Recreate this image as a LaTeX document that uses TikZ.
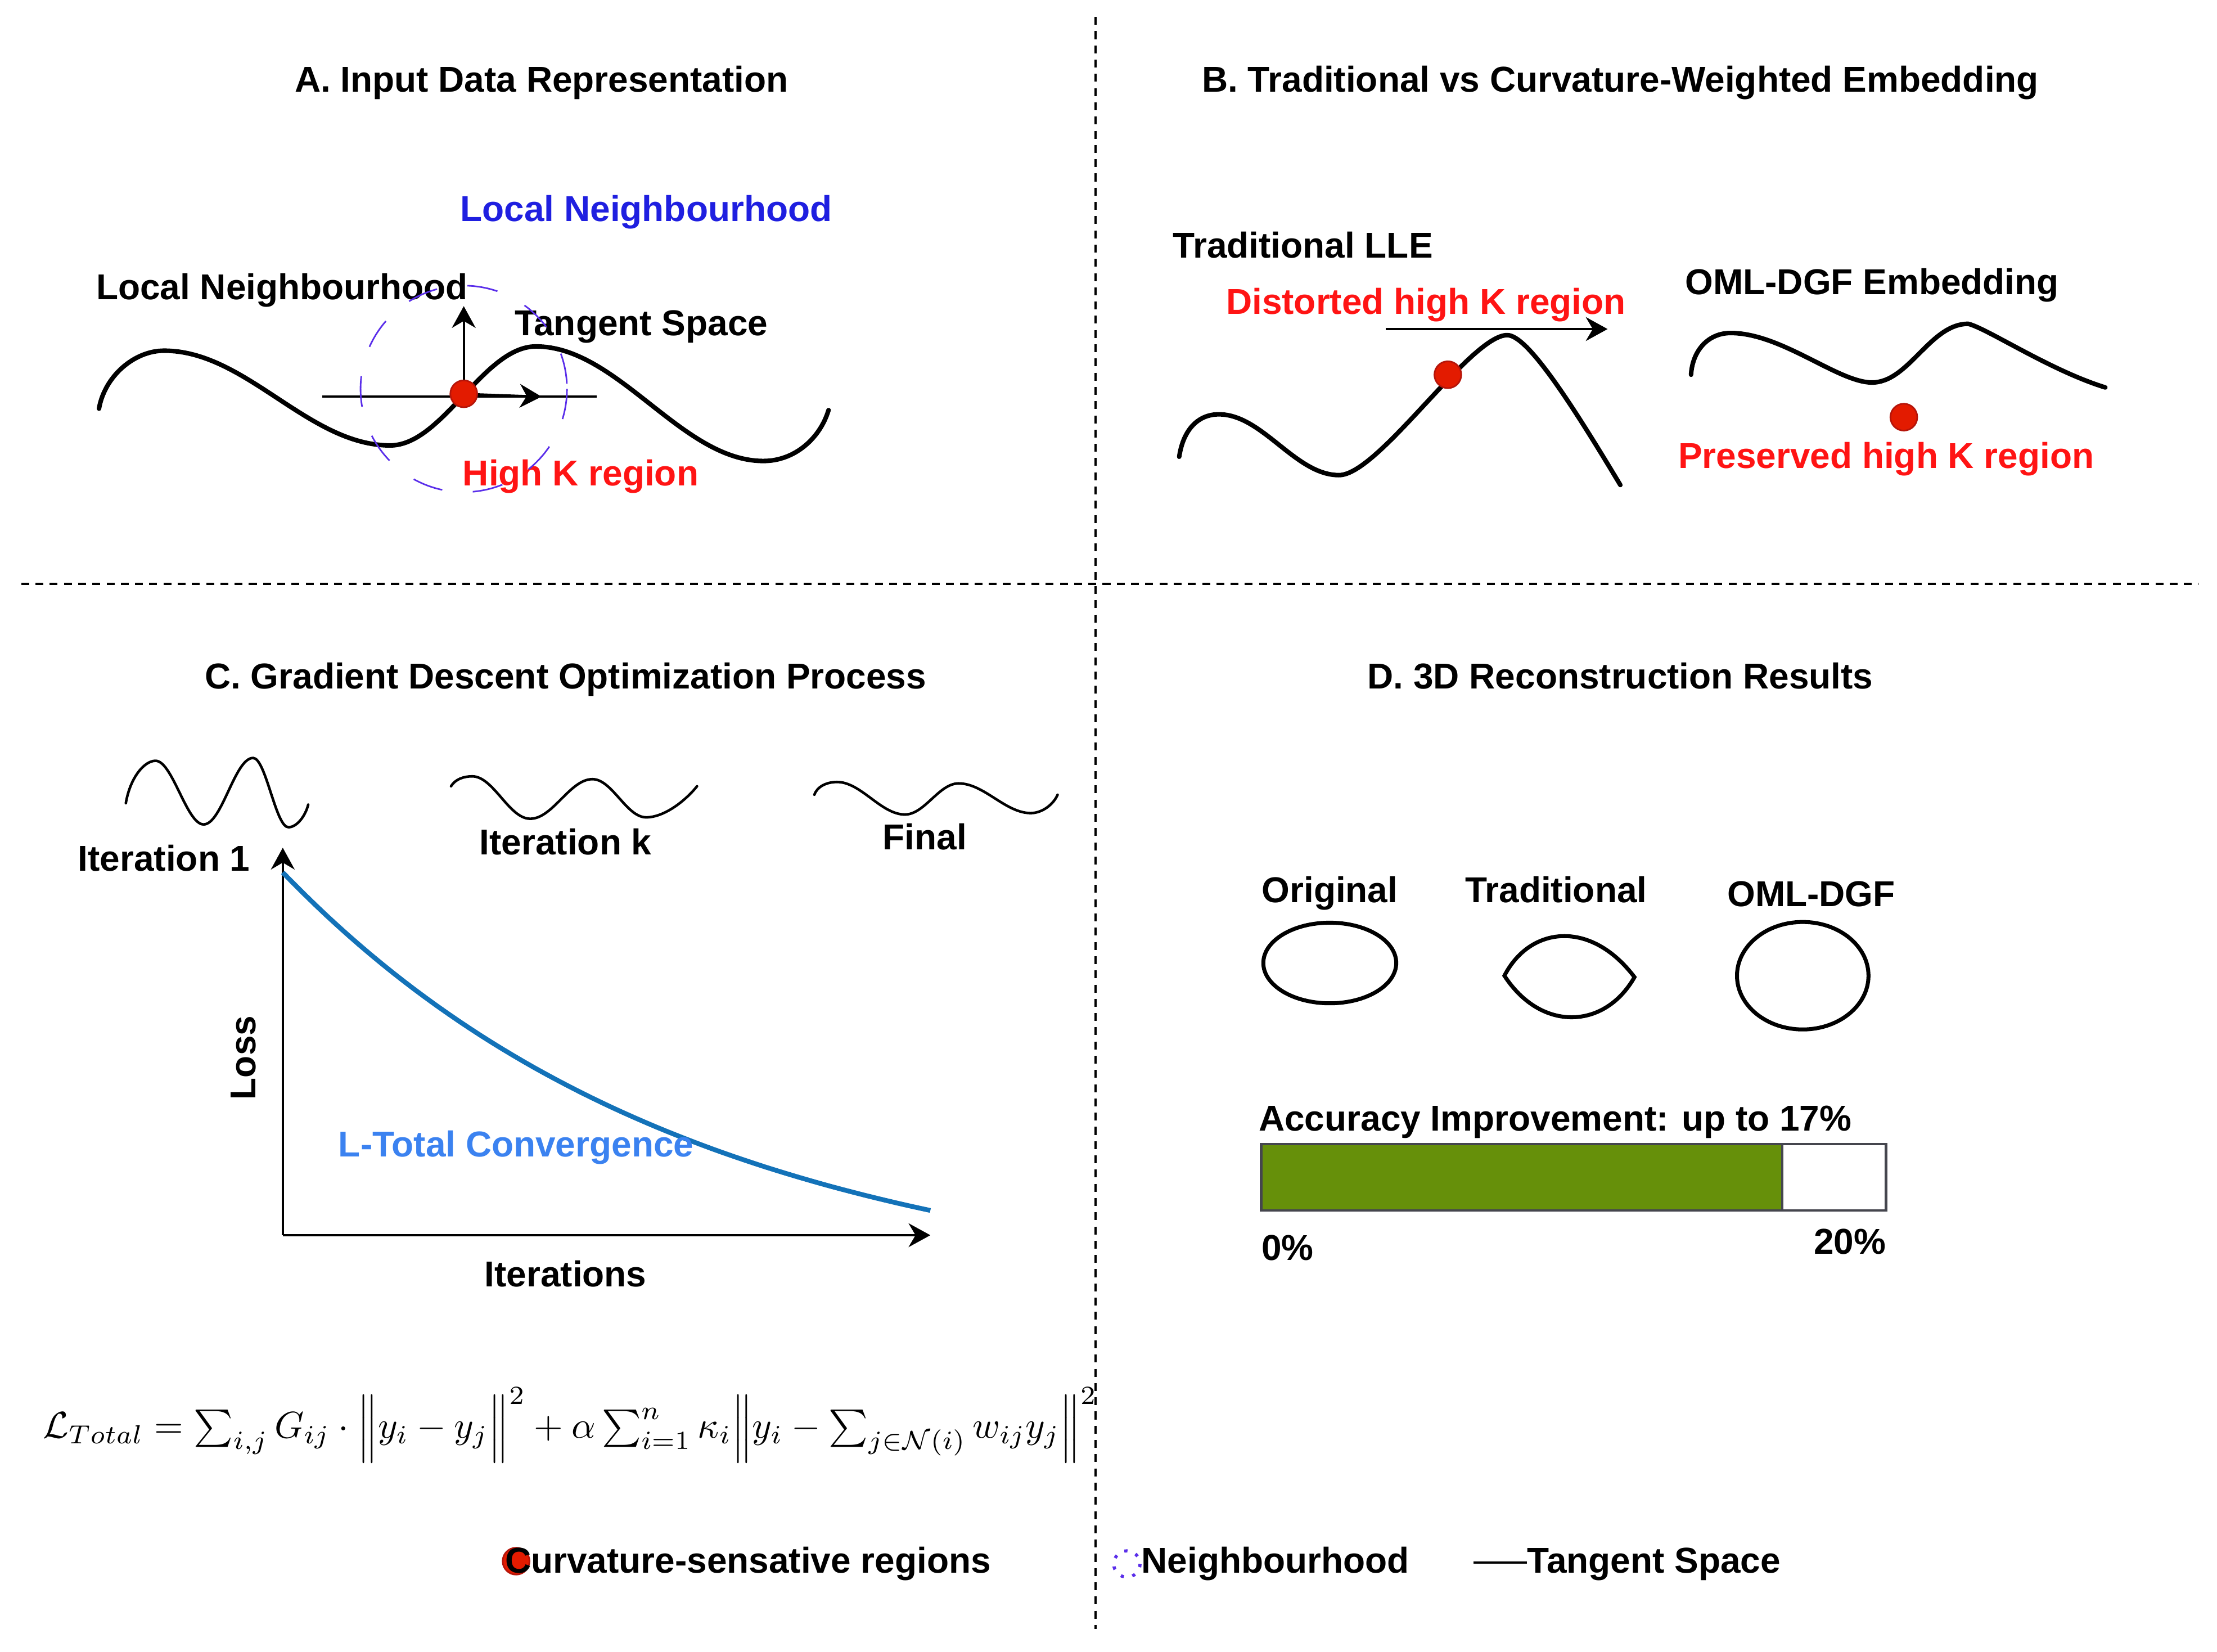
\documentclass[tikz,border=0pt]{standalone}
\usepackage{amsmath,amssymb}
\usepackage{fontspec}
\setmainfont{Liberation Sans}
\usepackage{graphicx}
\usepackage{xcolor}
\usepackage{tikz}
\usetikzlibrary{arrows.meta}
\definecolor{hiRed}{HTML}{FF1414}
\definecolor{dotRed}{HTML}{E31B00}
\definecolor{dotEdge}{HTML}{B5150A}
\definecolor{nbBlue}{HTML}{1F1FE0}
\definecolor{nbPurple}{HTML}{5A2EEA}
\definecolor{lossBlue}{HTML}{1372B8}
\definecolor{convBlue}{HTML}{3B82F0}
\definecolor{barGreen}{HTML}{66900A}
\definecolor{barEdge}{HTML}{45464E}
\tikzset{
  lbl/.style={font=\fontsize{18.2}{22}\selectfont\bfseries, inner sep=0pt, anchor=base},
  lblW/.style={lbl, anchor=base west},
  redLbl/.style={lbl, text=hiRed},
  blueLbl/.style={lbl, text=nbBlue},
  manifold/.style={draw=black, line width=2.3pt, line cap=round},
  thinWave/.style={draw=black, line width=1.3pt, line cap=round},
  kDot/.style={fill=dotRed, draw=dotEdge, line width=0.8pt},
  nbCircle/.style={draw=nbPurple, line width=0.8pt, dash pattern=on 15.5pt off 15.5pt},
  nbMark/.style={draw=nbPurple, line width=1.6pt, dash pattern=on 1.6pt off 4.4pt},
  arrowLine/.style={-{Stealth[length=11pt, width=12pt, inset=3.5pt]}, line width=1.1pt},
  tanLine/.style={draw=black, line width=1pt},
  panelSep/.style={draw=black, line width=1.1pt, dash pattern=on 4pt off 3.2pt},
  lossCurve/.style={draw=lossBlue, line width=2.4pt},
  shapeLine/.style={draw=black, line width=2pt},
  barFrame/.style={draw=barEdge, line width=1.3pt}
}
\begin{document}
\begin{tikzpicture}[x=0.02514cm, y=-0.02514cm]
  \useasboundingbox (0,0) rectangle (1568,1168);

  % panel separators
  \coordinate (sepTop) at (775,12);
  \coordinate (sepBot) at (775,1152);
  \coordinate (sepL) at (15,413);
  \coordinate (sepR) at (1555,413);
  \draw[panelSep] (sepTop) -- (sepBot);
  \draw[panelSep] (sepL) -- (sepR);

  % titles
  \node[lbl] (titleA) at (383,65) {A. Input Data Representation};
  \node[lbl] (titleB) at (1146,65) {B. Traditional vs Curvature-Weighted Embedding};
  \node[lbl] (titleC) at (400,487) {C. Gradient Descent Optimization Process};
  \node[lbl] (titleD) at (1146,487) {D. 3D Reconstruction Results};

  % A: manifold with tangent space
  \coordinate (dotA) at (328,278.5);
  \coordinate (tanL) at (228,280.5);
  \coordinate (tanR) at (422,280.5);
  \coordinate (tanTip) at (383,280.5);
  \coordinate (normTip) at (328,216.5);

  \draw[manifold] (70,289) .. controls (74,266) and (95,248) .. (116,248)
    .. controls (174,248) and (218,315) .. (276,315)
    .. controls (313,315) and (342,245) .. (379,245)
    .. controls (437,245) and (482,326) .. (540,326)
    .. controls (562,326) and (580,310) .. (586,290);

  \draw[tanLine] (tanL) -- (tanR);
  \draw[arrowLine] (dotA) -- (tanTip);
  \draw[arrowLine] (dotA) -- (normTip);

  \node[blueLbl] (nbTop) at (457,156.5) {Local Neighbourhood};
  \node[lbl] (nbLeft) at (199.5,211.7) {Local Neighbourhood};
  \node[lbl] (tanLbl) at (453.5,237.2) {Tangent Space};
  \node[redLbl] (highK) at (410.7,343.6) {High K region};

  \draw[nbCircle] (328,275) circle (73);
  \draw[kDot] (dotA) circle (9.5);

  % B: traditional vs curvature-weighted
  \coordinate (dotB1) at (1024,265);
  \coordinate (dotB2) at (1346.5,295);
  \coordinate (shiftL) at (980,232.7);
  \coordinate (shiftR) at (1137,232.7);

  \node[lbl] (llLbl) at (921.5,182.2) {Traditional LLE};
  \node[redLbl] (distLbl) at (1008.5,222.2) {Distorted high K region};
  \node[lbl] (omlLbl) at (1324,208.3) {OML-DGF Embedding};
  \node[redLbl] (presLbl) at (1334,331) {Preserved high K region};

  \draw[arrowLine, line width=1.4pt] (shiftL) -- (shiftR);

  \draw[manifold] (834,323) .. controls (837,303) and (848,293) .. (862,293)
    .. controls (893,293) and (916,336) .. (947,336)
    .. controls (975,336) and (1040,237) .. (1066,237)
    .. controls (1080,237) and (1110,283) .. (1146,343);
  \draw[manifold] (1196,265) .. controls (1197,248) and (1208,235.5) .. (1224,235.5)
    .. controls (1260,235.5) and (1300,270.5) .. (1324,270.5)
    .. controls (1350,270.5) and (1365,229) .. (1392,229)
    .. controls (1405,232) and (1450,262) .. (1489,274);

  \draw[kDot] (dotB1) circle (9.5);
  \draw[kDot] (dotB2) circle (9.5);

  % C: iterations
  \draw[thinWave] (89,568) .. controls (92,550) and (102,538) .. (110,538)
    .. controls (122,538) and (132,583) .. (144,583)
    .. controls (157,583) and (166,536) .. (179,536)
    .. controls (188,536) and (195,585) .. (204,585)
    .. controls (210,585) and (216,577) .. (218,569);
  \draw[thinWave] (319,556) .. controls (322,551) and (328,549) .. (334,549)
    .. controls (349,549) and (360,579) .. (375,579)
    .. controls (391,579) and (403,551) .. (419,551)
    .. controls (433,551) and (443,578) .. (457,578)
    .. controls (470,578) and (485,566) .. (493,556);
  \draw[thinWave] (576,562) .. controls (578,556) and (585,553) .. (592,553)
    .. controls (609,553) and (623,576) .. (640,576)
    .. controls (654,576) and (664,554) .. (678,554)
    .. controls (696,554) and (711,575) .. (729,575)
    .. controls (737,575) and (745,569) .. (748,562);

  \node[lbl] (it1) at (116,616) {Iteration 1};
  \node[lbl] (itK) at (400,604.6) {Iteration k};
  \node[lbl] (itF) at (654,601) {Final};

  % C: loss plot
  \coordinate (axO) at (200,873.5);
  \coordinate (axY) at (200,599.5);
  \coordinate (axX) at (658,873.5);
  \draw[arrowLine, line width=1.3pt] (axO) -- (axY);
  \draw[arrowLine, line width=1.3pt] (axO) -- (axX);
  \draw[lossCurve] plot[domain=200:658, samples=60]
    (\x, {617 + 239*(1-exp(-(\x-200)/290))/(1-exp(-458/290))});

  \node[lbl, anchor=center, rotate=90] (lossLbl) at (172,748) {Loss};
  \node[lbl] (iterLbl) at (400,910) {Iterations};
  \node[lbl, text=convBlue] (convLbl) at (365,818) {L-Total Convergence};

  \node[anchor=base west, inner sep=0pt] (lossEq) at (30,1017)
    {\resizebox{18.75cm}{!}{$\mathcal{L}_{Total} = \sum_{i,j} G_{ij}\cdot\Big\|y_i - y_j\Big\|^2 + \alpha\sum_{i=1}^{n}\kappa_i\Big\|y_i - \sum_{j\in\mathcal{N}(i)} w_{ij}y_j\Big\|^2$}};

  % D: reconstruction
  \node[lbl] (origLbl) at (940.5,638.3) {Original};
  \node[lbl] (tradLbl) at (1100.5,638.3) {Traditional};
  \node[lbl] (omlShort) at (1281,641) {OML-DGF};

  \draw[shapeLine] (940.5,681) ellipse [x radius=47, y radius=28.5];
  \draw[shapeLine] (1064,690) .. controls (1082,655) and (1125,650) .. (1156,691)
    .. controls (1135,728) and (1090,730) .. (1064,690) -- cycle;
  \draw[shapeLine] (1275,690) ellipse [x radius=46.5, y radius=38];

  \node[lblW] (accLbl) at (890,799.6) {Accuracy Improvement: up to 17\%};
  \draw[barFrame, fill=white] (892,809) rectangle (1334,856);
  \draw[barFrame, fill=barGreen] (892,809) rectangle (1260.5,856);
  \node[lblW] (zeroLbl) at (892,891) {0\%};
  \node[lbl, anchor=base east] (maxLbl) at (1334,887) {20\%};

  % legend
  \coordinate (legDot) at (365,1104);
  \coordinate (legCirc) at (797,1106);
  \coordinate (legTanA) at (1042,1105);
  \draw[kDot] (legDot) circle (9.5);
  \node[lblW] (legCurv) at (357,1112.4) {Curvature-sensative regions};
  \draw[nbMark] (legCirc) circle (9.3);
  \node[lblW] (legNb) at (807,1112.4) {Neighbourhood};
  \node[lblW] (legTan) at (1080,1112.4) {Tangent Space};
  \draw[tanLine, line width=1.2pt] (legTanA) -- (legTanA -| legTan.west);
\end{tikzpicture}
\end{document}
